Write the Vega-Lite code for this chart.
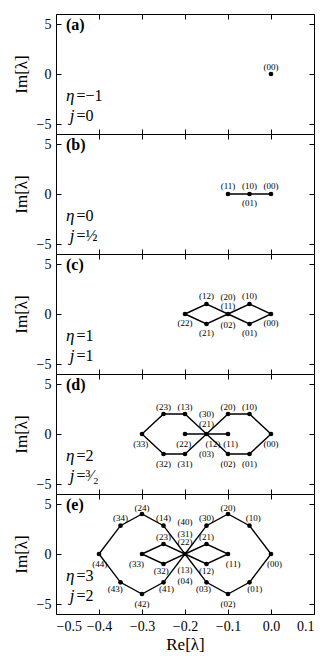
{
  "$schema": "https://vega.github.io/schema/vega-lite/v6.json",
  "padding": {"left": 12, "top": 13, "right": 14, "bottom": 5},
  "bounds": "flush",
  "config": {
    "font": "Liberation Serif",
    "view": {"stroke": null},
    "axis": {"tickSize": -5, "labelPadding": 10, "grid": false, "domainColor": "black", "tickColor": "black", "domainWidth": 1, "tickWidth": 1, "labelFont": "Liberation Serif", "titleFont": "Liberation Serif", "labelFontSize": 14, "titleFontSize": 17, "titleFontWeight": "normal", "labelColor": "black", "titleColor": "black"},
    "text": {"font": "Liberation Serif", "color": "black"}
  },
  "datasets": {
    "pts": [
      {"p": "a", "x": 0, "y": 0},
      {"p": "b", "x": -0.1, "y": 0}, {"p": "b", "x": -0.05, "y": 0}, {"p": "b", "x": 0, "y": 0},
      {"p": "c", "x": -0.2, "y": 0}, {"p": "c", "x": -0.15, "y": 1}, {"p": "c", "x": -0.15, "y": -1}, {"p": "c", "x": -0.1, "y": 0}, {"p": "c", "x": -0.05, "y": 1}, {"p": "c", "x": -0.05, "y": -1}, {"p": "c", "x": 0, "y": 0},
      {"p": "d", "x": -0.3, "y": 0}, {"p": "d", "x": -0.25, "y": 2}, {"p": "d", "x": -0.2, "y": 2}, {"p": "d", "x": -0.25, "y": -2}, {"p": "d", "x": -0.2, "y": -2}, {"p": "d", "x": -0.2, "y": 0}, {"p": "d", "x": -0.15, "y": 0}, {"p": "d", "x": -0.1, "y": 0}, {"p": "d", "x": -0.1, "y": 2}, {"p": "d", "x": -0.05, "y": 2}, {"p": "d", "x": -0.1, "y": -2}, {"p": "d", "x": -0.05, "y": -2}, {"p": "d", "x": 0, "y": 0},
      {"p": "e", "x": -0.4, "y": 0}, {"p": "e", "x": -0.35, "y": 2.83}, {"p": "e", "x": -0.3, "y": 4}, {"p": "e", "x": -0.25, "y": 2.83}, {"p": "e", "x": -0.35, "y": -2.83}, {"p": "e", "x": -0.3, "y": -4}, {"p": "e", "x": -0.25, "y": -2.83},
      {"p": "e", "x": -0.3, "y": 0}, {"p": "e", "x": -0.25, "y": 1}, {"p": "e", "x": -0.25, "y": -1}, {"p": "e", "x": -0.2, "y": 0}, {"p": "e", "x": -0.15, "y": 1}, {"p": "e", "x": -0.15, "y": -1}, {"p": "e", "x": -0.1, "y": 0},
      {"p": "e", "x": -0.15, "y": 2.83}, {"p": "e", "x": -0.1, "y": 4}, {"p": "e", "x": -0.05, "y": 2.83}, {"p": "e", "x": -0.15, "y": -2.83}, {"p": "e", "x": -0.1, "y": -4}, {"p": "e", "x": -0.05, "y": -2.83}, {"p": "e", "x": 0, "y": 0}
    ],
    "lines": [
      {"p": "b", "g": 1, "o": 1, "x": -0.1, "y": 0}, {"p": "b", "g": 1, "o": 2, "x": 0, "y": 0},
      {"p": "c", "g": 1, "o": 1, "x": -0.2, "y": 0}, {"p": "c", "g": 1, "o": 2, "x": -0.15, "y": 1}, {"p": "c", "g": 1, "o": 3, "x": -0.1, "y": 0}, {"p": "c", "g": 1, "o": 4, "x": -0.15, "y": -1}, {"p": "c", "g": 1, "o": 5, "x": -0.2, "y": 0},
      {"p": "c", "g": 2, "o": 1, "x": -0.1, "y": 0}, {"p": "c", "g": 2, "o": 2, "x": -0.05, "y": 1}, {"p": "c", "g": 2, "o": 3, "x": 0, "y": 0}, {"p": "c", "g": 2, "o": 4, "x": -0.05, "y": -1}, {"p": "c", "g": 2, "o": 5, "x": -0.1, "y": 0},
      {"p": "d", "g": 1, "o": 1, "x": -0.3, "y": 0}, {"p": "d", "g": 1, "o": 2, "x": -0.25, "y": 2}, {"p": "d", "g": 1, "o": 3, "x": -0.2, "y": 2}, {"p": "d", "g": 1, "o": 4, "x": -0.15, "y": 0}, {"p": "d", "g": 1, "o": 5, "x": -0.2, "y": -2}, {"p": "d", "g": 1, "o": 6, "x": -0.25, "y": -2}, {"p": "d", "g": 1, "o": 7, "x": -0.3, "y": 0},
      {"p": "d", "g": 2, "o": 1, "x": -0.15, "y": 0}, {"p": "d", "g": 2, "o": 2, "x": -0.1, "y": 2}, {"p": "d", "g": 2, "o": 3, "x": -0.05, "y": 2}, {"p": "d", "g": 2, "o": 4, "x": 0, "y": 0}, {"p": "d", "g": 2, "o": 5, "x": -0.05, "y": -2}, {"p": "d", "g": 2, "o": 6, "x": -0.1, "y": -2}, {"p": "d", "g": 2, "o": 7, "x": -0.15, "y": 0},
      {"p": "d", "g": 3, "o": 1, "x": -0.2, "y": 0}, {"p": "d", "g": 3, "o": 2, "x": -0.1, "y": 0},
      {"p": "e", "g": 1, "o": 1, "x": -0.4, "y": 0}, {"p": "e", "g": 1, "o": 2, "x": -0.35, "y": 2.83}, {"p": "e", "g": 1, "o": 3, "x": -0.3, "y": 4}, {"p": "e", "g": 1, "o": 4, "x": -0.25, "y": 2.83}, {"p": "e", "g": 1, "o": 5, "x": -0.2, "y": 0}, {"p": "e", "g": 1, "o": 6, "x": -0.25, "y": -2.83}, {"p": "e", "g": 1, "o": 7, "x": -0.3, "y": -4}, {"p": "e", "g": 1, "o": 8, "x": -0.35, "y": -2.83}, {"p": "e", "g": 1, "o": 9, "x": -0.4, "y": 0},
      {"p": "e", "g": 2, "o": 1, "x": -0.2, "y": 0}, {"p": "e", "g": 2, "o": 2, "x": -0.15, "y": 2.83}, {"p": "e", "g": 2, "o": 3, "x": -0.1, "y": 4}, {"p": "e", "g": 2, "o": 4, "x": -0.05, "y": 2.83}, {"p": "e", "g": 2, "o": 5, "x": 0, "y": 0}, {"p": "e", "g": 2, "o": 6, "x": -0.05, "y": -2.83}, {"p": "e", "g": 2, "o": 7, "x": -0.1, "y": -4}, {"p": "e", "g": 2, "o": 8, "x": -0.15, "y": -2.83}, {"p": "e", "g": 2, "o": 9, "x": -0.2, "y": 0},
      {"p": "e", "g": 3, "o": 1, "x": -0.3, "y": 0}, {"p": "e", "g": 3, "o": 2, "x": -0.25, "y": 1}, {"p": "e", "g": 3, "o": 3, "x": -0.2, "y": 0}, {"p": "e", "g": 3, "o": 4, "x": -0.25, "y": -1}, {"p": "e", "g": 3, "o": 5, "x": -0.3, "y": 0},
      {"p": "e", "g": 4, "o": 1, "x": -0.2, "y": 0}, {"p": "e", "g": 4, "o": 2, "x": -0.15, "y": 1}, {"p": "e", "g": 4, "o": 3, "x": -0.1, "y": 0}, {"p": "e", "g": 4, "o": 4, "x": -0.15, "y": -1}, {"p": "e", "g": 4, "o": 5, "x": -0.2, "y": 0}
    ],
    "labs": [
      {"p": "a", "x": 0, "y": 0.7, "t": "(00)"},
      {"p": "b", "x": -0.1, "y": 0.8, "t": "(11)"}, {"p": "b", "x": -0.05, "y": 0.8, "t": "(10)"}, {"p": "b", "x": 0, "y": 0.8, "t": "(00)"}, {"p": "b", "x": -0.05, "y": -0.87, "t": "(01)"},
      {"p": "c", "x": -0.15, "y": 1.83, "t": "(12)"}, {"p": "c", "x": -0.1, "y": 1.7, "t": "(20)"}, {"p": "c", "x": -0.05, "y": 1.83, "t": "(10)"}, {"p": "c", "x": -0.1, "y": 0.77, "t": "(11)"}, {"p": "c", "x": -0.2, "y": -0.93, "t": "(22)"}, {"p": "c", "x": -0.1, "y": -1.07, "t": "(02)"}, {"p": "c", "x": 0, "y": -0.93, "t": "(00)"}, {"p": "c", "x": -0.15, "y": -1.9, "t": "(21)"}, {"p": "c", "x": -0.05, "y": -1.9, "t": "(01)"},
      {"p": "d", "x": -0.25, "y": 2.7, "t": "(23)"}, {"p": "d", "x": -0.2, "y": 2.7, "t": "(13)"}, {"p": "d", "x": -0.1, "y": 2.7, "t": "(20)"}, {"p": "d", "x": -0.05, "y": 2.7, "t": "(10)"}, {"p": "d", "x": -0.15, "y": 2.03, "t": "(30)"}, {"p": "d", "x": -0.15, "y": 1.03, "t": "(21)"}, {"p": "d", "x": -0.303, "y": -1.0, "t": "(33)"}, {"p": "d", "x": -0.203, "y": -1.0, "t": "(22)"}, {"p": "d", "x": -0.135, "y": -0.97, "t": "(12)"}, {"p": "d", "x": -0.094, "y": -1.0, "t": "(11)"}, {"p": "d", "x": 0, "y": -1.0, "t": "(00)"}, {"p": "d", "x": -0.15, "y": -2.03, "t": "(03)"}, {"p": "d", "x": -0.25, "y": -2.97, "t": "(32)"}, {"p": "d", "x": -0.2, "y": -2.97, "t": "(31)"}, {"p": "d", "x": -0.1, "y": -2.97, "t": "(02)"}, {"p": "d", "x": -0.05, "y": -2.97, "t": "(01)"},
      {"p": "e", "x": -0.3, "y": 4.63, "t": "(24)"}, {"p": "e", "x": -0.1, "y": 4.63, "t": "(20)"}, {"p": "e", "x": -0.35, "y": 3.63, "t": "(34)"}, {"p": "e", "x": -0.25, "y": 3.63, "t": "(14)"}, {"p": "e", "x": -0.15, "y": 3.63, "t": "(30)"}, {"p": "e", "x": -0.041, "y": 3.63, "t": "(10)"}, {"p": "e", "x": -0.2, "y": 3.23, "t": "(40)"}, {"p": "e", "x": -0.2, "y": 2.03, "t": "(31)"}, {"p": "e", "x": -0.2, "y": 1.17, "t": "(22)"}, {"p": "e", "x": -0.25, "y": 1.7, "t": "(23)"}, {"p": "e", "x": -0.15, "y": 1.7, "t": "(21)"},
      {"p": "e", "x": -0.398, "y": -1.03, "t": "(44)"}, {"p": "e", "x": -0.313, "y": -1.03, "t": "(33)"}, {"p": "e", "x": -0.088, "y": -1.03, "t": "(11)"}, {"p": "e", "x": 0.008, "y": -1.03, "t": "(00)"}, {"p": "e", "x": -0.255, "y": -1.7, "t": "(32)"}, {"p": "e", "x": -0.2, "y": -1.63, "t": "(13)"}, {"p": "e", "x": -0.15, "y": -1.7, "t": "(12)"}, {"p": "e", "x": -0.2, "y": -2.7, "t": "(04)"},
      {"p": "e", "x": -0.362, "y": -3.45, "t": "(43)"}, {"p": "e", "x": -0.243, "y": -3.45, "t": "(41)"}, {"p": "e", "x": -0.157, "y": -3.45, "t": "(03)"}, {"p": "e", "x": -0.038, "y": -3.45, "t": "(01)"}, {"p": "e", "x": -0.3, "y": -4.97, "t": "(42)"}, {"p": "e", "x": -0.1, "y": -4.97, "t": "(02)"}
    ],
    "notes": [
      {"p": "a", "s": "η", "r": "=−1", "y": -2.65}, {"p": "a", "s": "j", "r": "=0", "y": -4.7},
      {"p": "b", "s": "η", "r": "=0", "y": -2.65}, {"p": "b", "s": "j", "r": "=½", "y": -4.7},
      {"p": "c", "s": "η", "r": "=1", "y": -2.65}, {"p": "c", "s": "j", "r": "=1", "y": -4.7},
      {"p": "d", "s": "η", "r": "=2", "y": -2.65}, {"p": "d", "s": "j", "r": "=³⁄₂", "y": -4.7},
      {"p": "e", "s": "η", "r": "=3", "y": -2.65}, {"p": "e", "s": "j", "r": "=2", "y": -4.7}
    ],
    "tags": [
      {"p": "a", "t": "(a)"}, {"p": "b", "t": "(b)"}, {"p": "c", "t": "(c)"}, {"p": "d", "t": "(d)"}, {"p": "e", "t": "(e)"}
    ]
  },
  "spacing": 0,
  "vconcat": [
    {
      "width": 258, "height": 120,
      "resolve": {"axis": {"x": "independent", "y": "independent"}},
      "layer": [
        {"data": {"name": "lines"}, "transform": [{"filter": "datum.p=='a'"}], "mark": {"type": "line", "color": "black", "strokeWidth": 1.4},
         "encoding": {"x": {"field": "x", "type": "quantitative", "scale": {"domain": [-0.5, 0.1], "nice": false, "zero": false}, "axis": {"orient": "bottom", "values": [-0.5, -0.4, -0.3, -0.2, -0.1, 0, 0.1], "labels": false, "title": null}},
                      "y": {"field": "y", "type": "quantitative", "scale": {"domain": [-6, 6], "nice": false}, "axis": {"orient": "left", "values": [-5, 0, 5], "title": "Im[λ]", "titlePadding": 6}},
                      "detail": {"field": "g"}, "order": {"field": "o"}}},
        {"data": {"name": "pts"}, "transform": [{"filter": "datum.p=='a'"}], "mark": {"type": "point", "filled": true, "color": "black", "size": 22, "opacity": 1},
         "encoding": {"x": {"field": "x", "type": "quantitative", "axis": {"orient": "top", "values": [-0.5, -0.4, -0.3, -0.2, -0.1, 0, 0.1], "labels": false, "title": null}},
                      "y": {"field": "y", "type": "quantitative", "axis": {"orient": "right", "values": [-5, 0, 5], "labels": false, "title": null}}}},
        {"data": {"name": "labs"}, "transform": [{"filter": "datum.p=='a'"}], "mark": {"type": "text", "fontSize": 9, "baseline": "middle", "align": "center"},
         "encoding": {"x": {"field": "x", "type": "quantitative", "axis": null}, "y": {"field": "y", "type": "quantitative", "axis": null}, "text": {"field": "t"}}},
        {"data": {"name": "notes"}, "transform": [{"filter": "datum.p=='a'"}], "mark": {"type": "text", "fontSize": 17, "fontStyle": "italic", "align": "right", "baseline": "alphabetic"},
         "encoding": {"x": {"datum": -0.457, "axis": null}, "y": {"field": "y", "type": "quantitative", "axis": null}, "text": {"field": "s"}}},
        {"data": {"name": "notes"}, "transform": [{"filter": "datum.p=='a'"}], "mark": {"type": "text", "fontSize": 16, "align": "left", "baseline": "alphabetic", "dx": 2},
         "encoding": {"x": {"datum": -0.457, "axis": null}, "y": {"field": "y", "type": "quantitative", "axis": null}, "text": {"field": "r"}}},
        {"data": {"name": "tags"}, "transform": [{"filter": "datum.p=='a'"}], "mark": {"type": "text", "fontSize": 16, "fontWeight": "bold", "align": "left", "baseline": "alphabetic"},
         "encoding": {"x": {"datum": -0.4767, "axis": null}, "y": {"datum": 4.4, "axis": null}, "text": {"field": "t"}}}
      ]
    },
    {
      "width": 258, "height": 120,
      "resolve": {"axis": {"x": "independent", "y": "independent"}},
      "layer": [
        {"data": {"name": "lines"}, "transform": [{"filter": "datum.p=='b'"}], "mark": {"type": "line", "color": "black", "strokeWidth": 1.4},
         "encoding": {"x": {"field": "x", "type": "quantitative", "scale": {"domain": [-0.5, 0.1], "nice": false, "zero": false}, "axis": {"orient": "bottom", "values": [-0.5, -0.4, -0.3, -0.2, -0.1, 0, 0.1], "labels": false, "title": null}},
                      "y": {"field": "y", "type": "quantitative", "scale": {"domain": [-6, 6], "nice": false}, "axis": {"orient": "left", "values": [-5, 0, 5], "title": "Im[λ]", "titlePadding": 6}},
                      "detail": {"field": "g"}, "order": {"field": "o"}}},
        {"data": {"name": "pts"}, "transform": [{"filter": "datum.p=='b'"}], "mark": {"type": "point", "filled": true, "color": "black", "size": 22, "opacity": 1},
         "encoding": {"x": {"field": "x", "type": "quantitative", "axis": {"orient": "top", "values": [-0.5, -0.4, -0.3, -0.2, -0.1, 0, 0.1], "labels": false, "title": null}},
                      "y": {"field": "y", "type": "quantitative", "axis": {"orient": "right", "values": [-5, 0, 5], "labels": false, "title": null}}}},
        {"data": {"name": "labs"}, "transform": [{"filter": "datum.p=='b'"}], "mark": {"type": "text", "fontSize": 9, "baseline": "middle", "align": "center"},
         "encoding": {"x": {"field": "x", "type": "quantitative", "axis": null}, "y": {"field": "y", "type": "quantitative", "axis": null}, "text": {"field": "t"}}},
        {"data": {"name": "notes"}, "transform": [{"filter": "datum.p=='b'"}], "mark": {"type": "text", "fontSize": 17, "fontStyle": "italic", "align": "right", "baseline": "alphabetic"},
         "encoding": {"x": {"datum": -0.457, "axis": null}, "y": {"field": "y", "type": "quantitative", "axis": null}, "text": {"field": "s"}}},
        {"data": {"name": "notes"}, "transform": [{"filter": "datum.p=='b'"}], "mark": {"type": "text", "fontSize": 16, "align": "left", "baseline": "alphabetic", "dx": 2},
         "encoding": {"x": {"datum": -0.457, "axis": null}, "y": {"field": "y", "type": "quantitative", "axis": null}, "text": {"field": "r"}}},
        {"data": {"name": "tags"}, "transform": [{"filter": "datum.p=='b'"}], "mark": {"type": "text", "fontSize": 16, "fontWeight": "bold", "align": "left", "baseline": "alphabetic"},
         "encoding": {"x": {"datum": -0.4767, "axis": null}, "y": {"datum": 4.4, "axis": null}, "text": {"field": "t"}}}
      ]
    },
    {
      "width": 258, "height": 120,
      "resolve": {"axis": {"x": "independent", "y": "independent"}},
      "layer": [
        {"data": {"name": "lines"}, "transform": [{"filter": "datum.p=='c'"}], "mark": {"type": "line", "color": "black", "strokeWidth": 1.4},
         "encoding": {"x": {"field": "x", "type": "quantitative", "scale": {"domain": [-0.5, 0.1], "nice": false, "zero": false}, "axis": {"orient": "bottom", "values": [-0.5, -0.4, -0.3, -0.2, -0.1, 0, 0.1], "labels": false, "title": null}},
                      "y": {"field": "y", "type": "quantitative", "scale": {"domain": [-6, 6], "nice": false}, "axis": {"orient": "left", "values": [-5, 0, 5], "title": "Im[λ]", "titlePadding": 6}},
                      "detail": {"field": "g"}, "order": {"field": "o"}}},
        {"data": {"name": "pts"}, "transform": [{"filter": "datum.p=='c'"}], "mark": {"type": "point", "filled": true, "color": "black", "size": 22, "opacity": 1},
         "encoding": {"x": {"field": "x", "type": "quantitative", "axis": {"orient": "top", "values": [-0.5, -0.4, -0.3, -0.2, -0.1, 0, 0.1], "labels": false, "title": null}},
                      "y": {"field": "y", "type": "quantitative", "axis": {"orient": "right", "values": [-5, 0, 5], "labels": false, "title": null}}}},
        {"data": {"name": "labs"}, "transform": [{"filter": "datum.p=='c'"}], "mark": {"type": "text", "fontSize": 9, "baseline": "middle", "align": "center"},
         "encoding": {"x": {"field": "x", "type": "quantitative", "axis": null}, "y": {"field": "y", "type": "quantitative", "axis": null}, "text": {"field": "t"}}},
        {"data": {"name": "notes"}, "transform": [{"filter": "datum.p=='c'"}], "mark": {"type": "text", "fontSize": 17, "fontStyle": "italic", "align": "right", "baseline": "alphabetic"},
         "encoding": {"x": {"datum": -0.457, "axis": null}, "y": {"field": "y", "type": "quantitative", "axis": null}, "text": {"field": "s"}}},
        {"data": {"name": "notes"}, "transform": [{"filter": "datum.p=='c'"}], "mark": {"type": "text", "fontSize": 16, "align": "left", "baseline": "alphabetic", "dx": 2},
         "encoding": {"x": {"datum": -0.457, "axis": null}, "y": {"field": "y", "type": "quantitative", "axis": null}, "text": {"field": "r"}}},
        {"data": {"name": "tags"}, "transform": [{"filter": "datum.p=='c'"}], "mark": {"type": "text", "fontSize": 16, "fontWeight": "bold", "align": "left", "baseline": "alphabetic"},
         "encoding": {"x": {"datum": -0.4767, "axis": null}, "y": {"datum": 4.4, "axis": null}, "text": {"field": "t"}}}
      ]
    },
    {
      "width": 258, "height": 120,
      "resolve": {"axis": {"x": "independent", "y": "independent"}},
      "layer": [
        {"data": {"name": "lines"}, "transform": [{"filter": "datum.p=='d'"}], "mark": {"type": "line", "color": "black", "strokeWidth": 1.4},
         "encoding": {"x": {"field": "x", "type": "quantitative", "scale": {"domain": [-0.5, 0.1], "nice": false, "zero": false}, "axis": {"orient": "bottom", "values": [-0.5, -0.4, -0.3, -0.2, -0.1, 0, 0.1], "labels": false, "title": null}},
                      "y": {"field": "y", "type": "quantitative", "scale": {"domain": [-6, 6], "nice": false}, "axis": {"orient": "left", "values": [-5, 0, 5], "title": "Im[λ]", "titlePadding": 6}},
                      "detail": {"field": "g"}, "order": {"field": "o"}}},
        {"data": {"name": "pts"}, "transform": [{"filter": "datum.p=='d'"}], "mark": {"type": "point", "filled": true, "color": "black", "size": 22, "opacity": 1},
         "encoding": {"x": {"field": "x", "type": "quantitative", "axis": {"orient": "top", "values": [-0.5, -0.4, -0.3, -0.2, -0.1, 0, 0.1], "labels": false, "title": null}},
                      "y": {"field": "y", "type": "quantitative", "axis": {"orient": "right", "values": [-5, 0, 5], "labels": false, "title": null}}}},
        {"data": {"name": "labs"}, "transform": [{"filter": "datum.p=='d'"}], "mark": {"type": "text", "fontSize": 9, "baseline": "middle", "align": "center"},
         "encoding": {"x": {"field": "x", "type": "quantitative", "axis": null}, "y": {"field": "y", "type": "quantitative", "axis": null}, "text": {"field": "t"}}},
        {"data": {"name": "notes"}, "transform": [{"filter": "datum.p=='d'"}], "mark": {"type": "text", "fontSize": 17, "fontStyle": "italic", "align": "right", "baseline": "alphabetic"},
         "encoding": {"x": {"datum": -0.457, "axis": null}, "y": {"field": "y", "type": "quantitative", "axis": null}, "text": {"field": "s"}}},
        {"data": {"name": "notes"}, "transform": [{"filter": "datum.p=='d'"}], "mark": {"type": "text", "fontSize": 16, "align": "left", "baseline": "alphabetic", "dx": 2},
         "encoding": {"x": {"datum": -0.457, "axis": null}, "y": {"field": "y", "type": "quantitative", "axis": null}, "text": {"field": "r"}}},
        {"data": {"name": "tags"}, "transform": [{"filter": "datum.p=='d'"}], "mark": {"type": "text", "fontSize": 16, "fontWeight": "bold", "align": "left", "baseline": "alphabetic"},
         "encoding": {"x": {"datum": -0.4767, "axis": null}, "y": {"datum": 4.4, "axis": null}, "text": {"field": "t"}}}
      ]
    },
    {
      "width": 258, "height": 120,
      "resolve": {"axis": {"x": "independent", "y": "independent"}},
      "layer": [
        {"data": {"name": "lines"}, "transform": [{"filter": "datum.p=='e'"}], "mark": {"type": "line", "color": "black", "strokeWidth": 1.4},
         "encoding": {"x": {"field": "x", "type": "quantitative", "scale": {"domain": [-0.5, 0.1], "nice": false, "zero": false}, "axis": {"orient": "bottom", "values": [-0.5, -0.4, -0.3, -0.2, -0.1, 0, 0.1], "format": ".1f", "title": "Re[λ]", "titlePadding": 3}},
                      "y": {"field": "y", "type": "quantitative", "scale": {"domain": [-6, 6], "nice": false}, "axis": {"orient": "left", "values": [-5, 0, 5], "title": "Im[λ]", "titlePadding": 6}},
                      "detail": {"field": "g"}, "order": {"field": "o"}}},
        {"data": {"name": "pts"}, "transform": [{"filter": "datum.p=='e'"}], "mark": {"type": "point", "filled": true, "color": "black", "size": 22, "opacity": 1},
         "encoding": {"x": {"field": "x", "type": "quantitative", "axis": {"orient": "top", "values": [-0.5, -0.4, -0.3, -0.2, -0.1, 0, 0.1], "labels": false, "title": null}},
                      "y": {"field": "y", "type": "quantitative", "axis": {"orient": "right", "values": [-5, 0, 5], "labels": false, "title": null}}}},
        {"data": {"name": "labs"}, "transform": [{"filter": "datum.p=='e'"}], "mark": {"type": "text", "fontSize": 9, "baseline": "middle", "align": "center"},
         "encoding": {"x": {"field": "x", "type": "quantitative", "axis": null}, "y": {"field": "y", "type": "quantitative", "axis": null}, "text": {"field": "t"}}},
        {"data": {"name": "notes"}, "transform": [{"filter": "datum.p=='e'"}], "mark": {"type": "text", "fontSize": 17, "fontStyle": "italic", "align": "right", "baseline": "alphabetic"},
         "encoding": {"x": {"datum": -0.457, "axis": null}, "y": {"field": "y", "type": "quantitative", "axis": null}, "text": {"field": "s"}}},
        {"data": {"name": "notes"}, "transform": [{"filter": "datum.p=='e'"}], "mark": {"type": "text", "fontSize": 16, "align": "left", "baseline": "alphabetic", "dx": 2},
         "encoding": {"x": {"datum": -0.457, "axis": null}, "y": {"field": "y", "type": "quantitative", "axis": null}, "text": {"field": "r"}}},
        {"data": {"name": "tags"}, "transform": [{"filter": "datum.p=='e'"}], "mark": {"type": "text", "fontSize": 16, "fontWeight": "bold", "align": "left", "baseline": "alphabetic"},
         "encoding": {"x": {"datum": -0.4767, "axis": null}, "y": {"datum": 4.4, "axis": null}, "text": {"field": "t"}}}
      ]
    }
  ]
}
